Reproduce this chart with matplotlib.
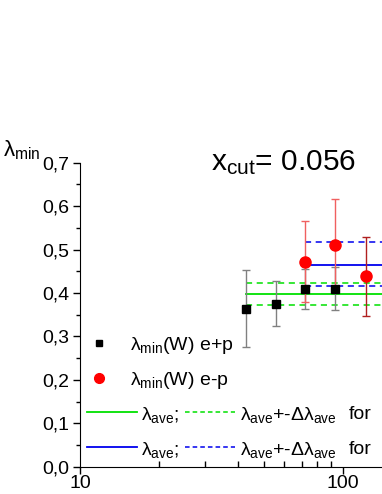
import numpy as np
import matplotlib
matplotlib.use("Agg")
import matplotlib.pyplot as plt
from matplotlib.lines import Line2D
from matplotlib.ticker import FixedLocator, FuncFormatter, MultipleLocator, LogLocator, NullFormatter

plt.rcParams['font.family'] = ['Liberation Sans', 'DejaVu Sans']
plt.rcParams['mathtext.fontset'] = 'custom'
plt.rcParams['mathtext.rm'] = 'Liberation Sans'
plt.rcParams['mathtext.it'] = 'Liberation Sans'
plt.rcParams['mathtext.default'] = 'regular'

# data
W_ep_plus = [42.8, 55.6, 72.0, 93.7]
lam_ep_plus = [0.364, 0.375, 0.409, 0.410]
err_ep_plus = [0.088, 0.052, 0.047, 0.050]

W_ep_minus = [72.0, 93.7, 122.4]
lam_ep_minus = [0.472, 0.510, 0.439]
err_ep_minus = [0.093, 0.106, 0.091]

green_ave, green_lo, green_hi = 0.398, 0.373, 0.422
blue_ave, blue_lo, blue_hi = 0.465, 0.416, 0.518

xmin_lim, xmax_lim = 10, 141.2

fig = plt.figure(figsize=(3.82, 4.94), dpi=100)
ax = fig.add_axes([80/382, 27.3/494, 302/382, 304/494])
ax.set_xscale('log')
ax.set_xlim(xmin_lim, xmax_lim)
ax.set_ylim(0, 0.7)
for s in ['top', 'right']:
    ax.spines[s].set_visible(False)

# average lines
x0g, x0b = W_ep_plus[0], W_ep_minus[0]
ax.plot([x0g, xmax_lim], [green_ave]*2, color='#00e000', lw=1.3)
ax.plot([x0g, xmax_lim], [green_lo]*2, color='#00e000', lw=1.1, ls=(0, (4, 3)))
ax.plot([x0g, xmax_lim], [green_hi]*2, color='#00e000', lw=1.1, ls=(0, (4, 3)))
ax.plot([x0b, xmax_lim], [blue_ave]*2, color='#0000ee', lw=1.3)
ax.plot([x0b, xmax_lim], [blue_lo]*2, color='#0000ee', lw=1.1, ls=(0, (4, 3)))
ax.plot([x0b, xmax_lim], [blue_hi]*2, color='#0000ee', lw=1.1, ls=(0, (4, 3)))

# error bars
ax.errorbar(W_ep_plus, lam_ep_plus, yerr=err_ep_plus, fmt='none', ecolor='#808080',
            elinewidth=1, capsize=3, capthick=1, zorder=3)
red_ecols = ['#f06060', '#f06060', '#b02020']
for x, y, e, c in zip(W_ep_minus, lam_ep_minus, err_ep_minus, red_ecols):
    ax.errorbar([x], [y], yerr=[e], fmt='none', ecolor=c, elinewidth=1, capsize=3, capthick=1, zorder=3)
ax.plot(W_ep_plus, lam_ep_plus, 's', color='black', ms=5.5, zorder=5)
ax.plot(W_ep_minus, lam_ep_minus, 'o', color='#ff0000', ms=8, zorder=4)

# ticks
ax.yaxis.set_major_locator(MultipleLocator(0.1))
ax.yaxis.set_minor_locator(MultipleLocator(0.05))
ax.yaxis.set_major_formatter(FuncFormatter(lambda v, p: f"{v:.1f}".replace('.', ',')))
ax.xaxis.set_major_locator(FixedLocator([10, 100]))
ax.xaxis.set_major_formatter(FuncFormatter(lambda v, p: f"{int(round(v))}"))
ax.xaxis.set_minor_locator(LogLocator(base=10, subs=np.arange(2, 10)))
ax.xaxis.set_minor_formatter(NullFormatter())
ax.tick_params(axis='y', which='major', direction='out', length=5, width=1, labelsize=14, pad=3)
ax.tick_params(axis='y', which='minor', direction='out', length=3, width=1)
ax.tick_params(axis='x', which='major', direction='out', length=5, width=1, labelsize=14, pad=1)
ax.tick_params(axis='x', which='minor', direction='in', length=4, width=1)

# legend (manual)
def ax_xy(px, py):
    return ((px - 80) / 302, (466.7 - py) / 304)

fs = 14
ax.plot(*ax_xy(99, 342.7), 's', color='black', ms=5, transform=ax.transAxes, clip_on=False)
ax.text(*ax_xy(130, 345), r'$\lambda_{min}$(W) e+p', transform=ax.transAxes, fontsize=fs, va='center')
ax.plot(*ax_xy(99, 377.7), 'o', color='#ff0000', ms=7, transform=ax.transAxes, clip_on=False)
ax.text(*ax_xy(130, 380), r'$\lambda_{min}$(W) e-p', transform=ax.transAxes, fontsize=fs, va='center')
for py, col in [(411.7, '#00e000'), (446.7, '#0000ee')]:
    a = ax_xy(87, py); b = ax_xy(137, py)
    ax.add_line(Line2D([a[0], b[0]], [a[1], b[1]], color=col, lw=1.3, transform=ax.transAxes))
    a = ax_xy(185, py); b = ax_xy(235, py)
    ax.add_line(Line2D([a[0], b[0]], [a[1], b[1]], color=col, lw=1.1, ls=(0, (3, 2)), transform=ax.transAxes))
    ax.text(*ax_xy(141, py + 3), r'$\lambda_{ave}$;', transform=ax.transAxes, fontsize=fs, va='center')
    ax.text(*ax_xy(240, py + 3), r'$\lambda_{ave}$+-$\Delta\lambda_{ave}$', transform=ax.transAxes, fontsize=fs, va='center')
    ax.text(*ax_xy(349, py + 3), 'for', transform=ax.transAxes, fontsize=fs, va='center')

# title and y label
fig.text(211/382, 1 - 163/494, r'$x_{cut}$= 0.056', fontsize=21.5, va='center', ha='left')
fig.text(3/382, 1 - 150/494, r'$\lambda_{min}$', fontsize=16, va='center', ha='left')

fig.savefig('out.png', dpi=100)
